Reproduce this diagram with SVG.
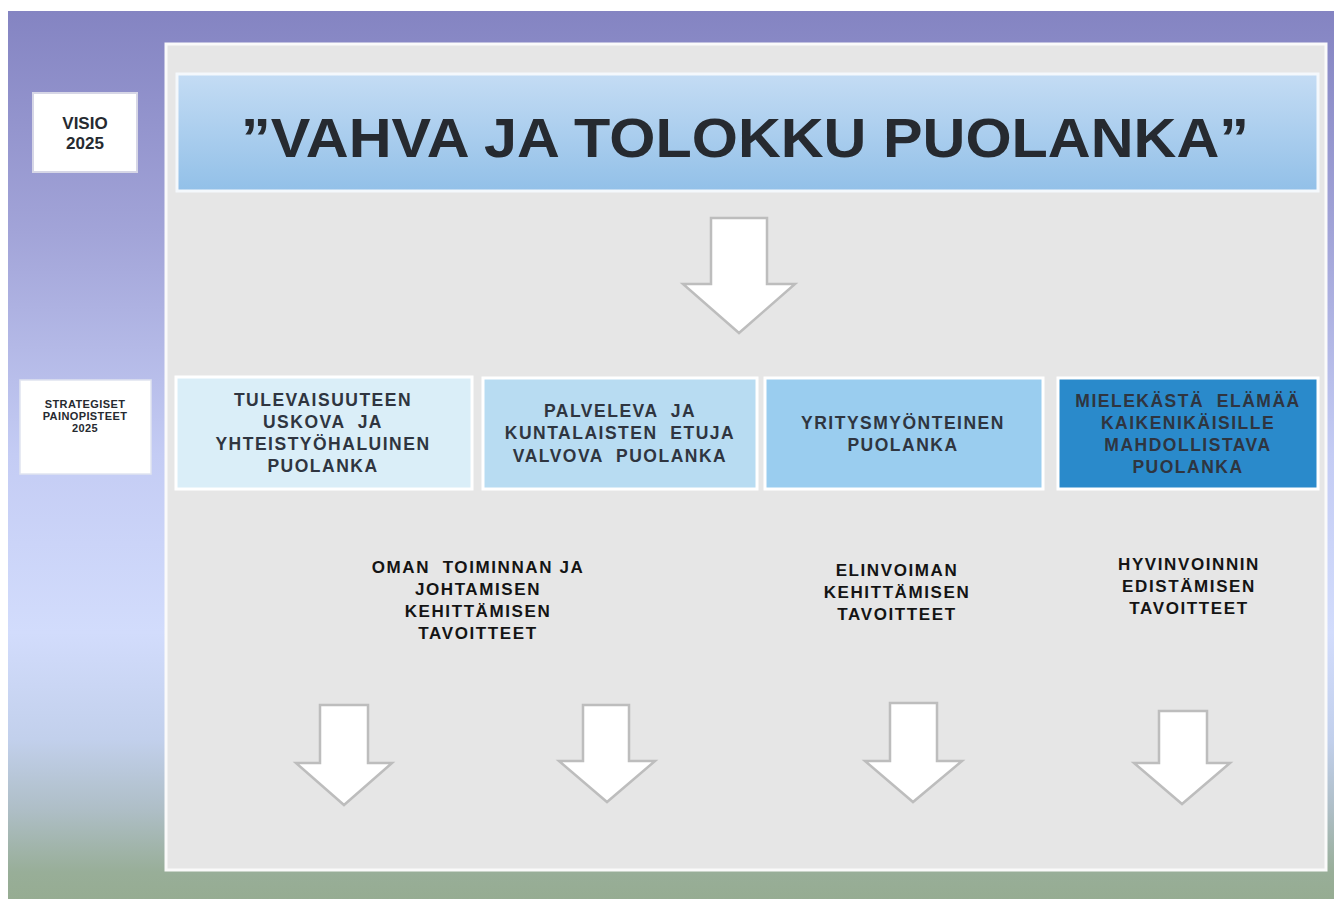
<svg xmlns="http://www.w3.org/2000/svg" width="1334" height="899" viewBox="0 0 1334 899" xml:space="preserve">
<defs>
<linearGradient id="bg" x1="0" y1="0" x2="0" y2="1">
<stop offset="0" stop-color="#8484c2"/>
<stop offset="0.25" stop-color="#a2a4d8"/>
<stop offset="0.5" stop-color="#c4ccf4"/>
<stop offset="0.7" stop-color="#d2dcfc"/>
<stop offset="0.82" stop-color="#c2d0ec"/>
<stop offset="0.9" stop-color="#aebec6"/>
<stop offset="0.97" stop-color="#98ae98"/>
<stop offset="1" stop-color="#96ac92"/>
</linearGradient>
<linearGradient id="title" x1="0" y1="0" x2="0" y2="1">
<stop offset="0" stop-color="#c4dcf4"/>
<stop offset="1" stop-color="#92c0e8"/>
</linearGradient>
</defs>
<style>
text{white-space:pre}
.t{font-family:"Liberation Sans",Arial,sans-serif;font-weight:bold;text-anchor:middle;fill:#262a30}
.bx{font-size:17.5px;letter-spacing:1.5px;fill:#2f3540}
.sub{font-size:17px;letter-spacing:1.6px;fill:#141414}
.sm{font-size:11px;letter-spacing:0.4px}
.arrow{fill:#ffffff;stroke:#bdbdbd;stroke-width:2.5;stroke-linejoin:miter}
.card{stroke:#ffffff;stroke-width:3}
</style>
<rect x="0" y="0" width="1334" height="899" fill="#ffffff"/>
<rect x="8" y="11" width="1326" height="888" fill="url(#bg)"/>
<rect id="panel" x="166" y="44" width="1160" height="826" fill="#e6e6e6" stroke="#fafafa" stroke-width="3"/>

<g id="visio">
<rect x="33" y="93" width="104" height="79" fill="#ffffff" stroke="#d6d6e6" stroke-width="2"/>
<text class="t" x="85" y="129" font-size="17">VISIO</text>
<text class="t" x="85" y="149" font-size="17">2025</text>
</g>
<g id="strategiset">
<rect x="20" y="380" width="131" height="94" fill="#ffffff" stroke="#e0e4f0" stroke-width="1.5"/>
<text class="t sm" x="85" y="408">STRATEGISET</text>
<text class="t sm" x="85" y="420">PAINOPISTEET</text>
<text class="t sm" x="85" y="432">2025</text>
</g>

<g id="title-box">
<rect x="177" y="74" width="1141" height="117" fill="url(#title)" stroke="#f4f8fc" stroke-width="3"/>
<text class="t" x="745" y="157" font-size="56" textLength="1008" lengthAdjust="spacingAndGlyphs" fill="#2a2e36">”VAHVA JA TOLOKKU PUOLANKA”</text>
</g>

<g id="box1">
<rect class="card" x="176" y="377" width="296" height="112" fill="#daeef8"/>
<text class="t bx" x="323" y="406">TULEVAISUUTEEN</text>
<text class="t bx" x="323" y="428">USKOVA  JA</text>
<text class="t bx" x="323" y="450">YHTEISTYÖHALUINEN</text>
<text class="t bx" x="323" y="472">PUOLANKA</text>
</g>
<g id="box2">
<rect class="card" x="483" y="378" width="274" height="111" fill="#b8dcf2"/>
<text class="t bx" x="620" y="417">PALVELEVA  JA</text>
<text class="t bx" x="620" y="439">KUNTALAISTEN  ETUJA</text>
<text class="t bx" x="620" y="462">VALVOVA  PUOLANKA</text>
</g>
<g id="box3">
<rect class="card" x="765" y="378" width="278" height="111" fill="#9acdef"/>
<text class="t bx" x="903" y="429">YRITYSMYÖNTEINEN</text>
<text class="t bx" x="903" y="451">PUOLANKA</text>
</g>
<g id="box4">
<rect class="card" x="1058" y="378" width="260" height="111" fill="#2a8acb"/>
<text class="t bx" x="1188" y="407" fill="#1f3f60">MIELEKÄSTÄ  ELÄMÄÄ</text>
<text class="t bx" x="1188" y="429" fill="#1f3f60">KAIKENIKÄISILLE</text>
<text class="t bx" x="1188" y="451" fill="#1f3f60">MAHDOLLISTAVA</text>
<text class="t bx" x="1188" y="473" fill="#1f3f60">PUOLANKA</text>
</g>

<g id="goal1">
<text class="t sub" x="478" y="573">OMAN  TOIMINNAN JA</text>
<text class="t sub" x="478" y="595">JOHTAMISEN</text>
<text class="t sub" x="478" y="617">KEHITTÄMISEN</text>
<text class="t sub" x="478" y="639">TAVOITTEET</text>
</g>
<g id="goal2">
<text class="t sub" x="897" y="576">ELINVOIMAN</text>
<text class="t sub" x="897" y="598">KEHITTÄMISEN</text>
<text class="t sub" x="897" y="620">TAVOITTEET</text>
</g>
<g id="goal3">
<text class="t sub" x="1189" y="570">HYVINVOINNIN</text>
<text class="t sub" x="1189" y="592">EDISTÄMISEN</text>
<text class="t sub" x="1189" y="614">TAVOITTEET</text>
</g>

<g id="connectors">
<path class="arrow" d="M711,218 L767,218 L767,284 L795,284 L739,333 L683,284 L711,284 Z"/>
<path class="arrow" d="M320,705 L368,705 L368,763 L392,763 L344,805 L296,763 L320,763 Z"/>
<path class="arrow" d="M583,705 L629,705 L629,761 L655,761 L607,802 L559,761 L583,761 Z"/>
<path class="arrow" d="M890,703 L937,703 L937,761 L962,761 L913,802 L865,761 L890,761 Z"/>
<path class="arrow" d="M1159,711 L1207,711 L1207,763 L1230,763 L1182,804 L1134,763 L1159,763 Z"/>
</g>
</svg>
